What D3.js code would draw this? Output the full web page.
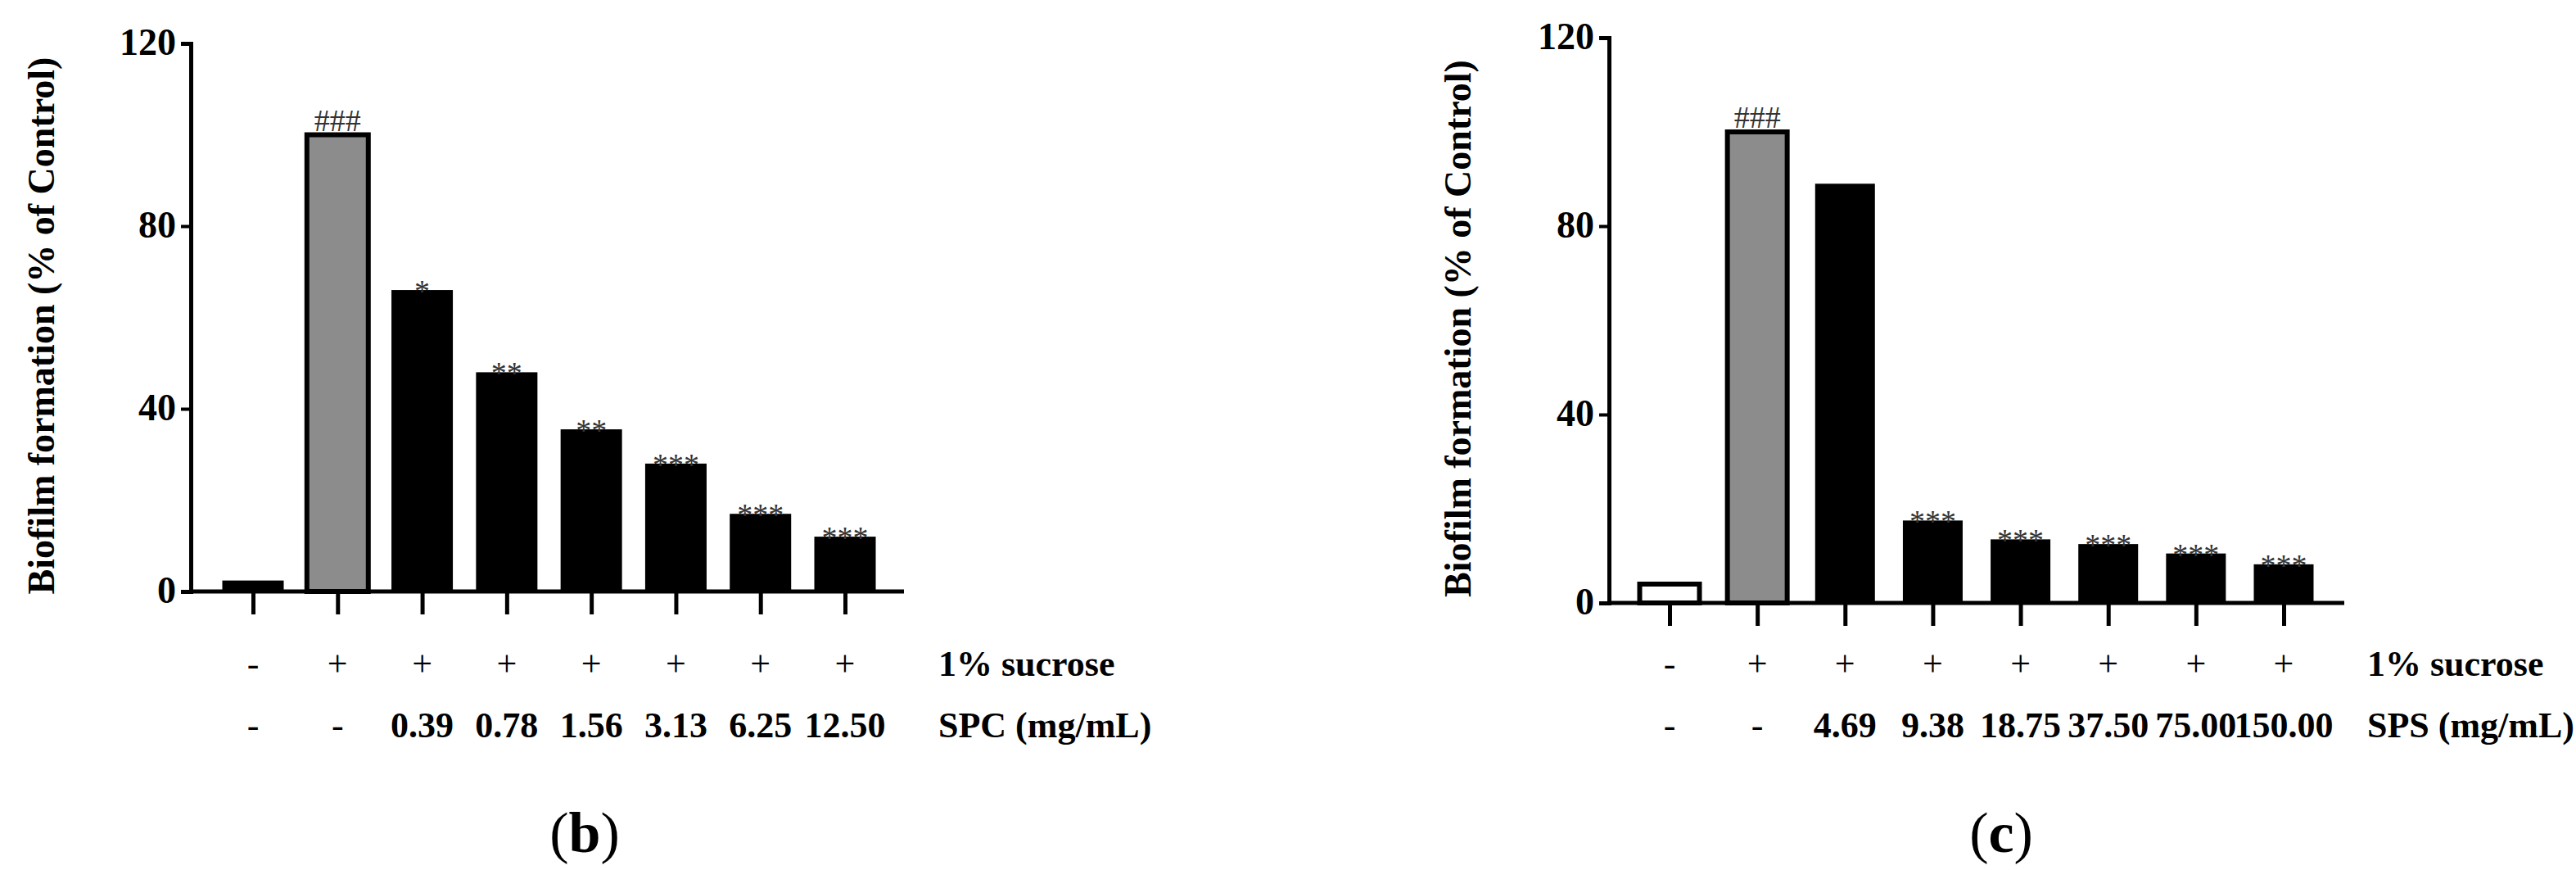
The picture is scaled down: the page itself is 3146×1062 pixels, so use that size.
<!DOCTYPE html>
<html><head><meta charset="utf-8">
<script src="https://cdn.jsdelivr.net/npm/d3@7"></script>
<style>body{margin:0;background:#fff}text{font-family:"Liberation Serif","Times New Roman",serif}</style>
</head><body>
<svg id="chart" width="3146" height="1062"></svg>
<script>
// --- data ---
const sucroseRow = ["-", "+", "+", "+", "+", "+", "+", "+"];
const spcDoses = ["-", "-", "0.39", "0.78", "1.56", "3.13", "6.25", "12.50"];
const spcValues = [2.4, 100, 66, 48, 35.5, 28, 17, 12];
const spcMarks = ["", "###", "*", "**", "**", "***", "***", "***"];
const spsDoses = ["-", "-", "4.69", "9.38", "18.75", "37.50", "75.00", "150.00"];
const spsValues = [4, 100, 89, 17.5, 13.5, 12.5, 10.5, 8.2];
const spsMarks = ["", "###", "", "***", "***", "***", "***", "***"];
const yTicks = [0, 40, 80, 120];

const svg = d3.select("#chart");

function drawPanel(o) {
    const g = svg.append("g");
    const x = d3.scalePoint().domain(d3.range(o.values.length)).range([o.c0, o.c1]);
    const y = d3.scaleLinear().domain([0, 120]).range([o.y0, o.yTop]);
    const bw = o.barW;

    // bars
    g.selectAll("rect").data(o.values).join("rect")
        .attr("x", (d, i) => x(i) - bw / 2)
        .attr("y", d => y(d))
        .attr("width", bw)
        .attr("height", d => o.y0 - y(d))
        .attr("fill", (d, i) => o.fills[i])
        .attr("stroke", "#000")
        .attr("stroke-width", (d, i) => o.fills[i] === "#000" ? 0 : 6);

    // significance marks
    g.selectAll(".sig").data(o.marks).join("text")
        .attr("x", (d, i) => x(i))
        .attr("y", (d, i) => y(o.values[i]) + (d.startsWith("#") ? -5 : 14))
        .attr("text-anchor", "middle")
        .attr("font-size", 38)
        .attr("fill", "#333")
        .text(d => d);

    // y axis
    const ya = g.append("g").attr("transform", `translate(${o.x0},0)`)
        .call(d3.axisLeft(y).tickValues(yTicks).tickSize(12).tickPadding(6));
    ya.select(".domain").attr("stroke-width", 5);
    ya.selectAll(".tick line").attr("stroke-width", 4);
    ya.selectAll("text").attr("font-size", 46).attr("font-weight", "bold")
        .attr("font-family", "Liberation Serif").attr("fill", "#000").attr("dy", "0.3em");

    // x axis
    const xa = g.append("g").attr("transform", `translate(0,${o.y0})`)
        .call(d3.axisBottom(x).tickSize(28).tickFormat(""));
    xa.select(".domain").attr("d", `M${o.x0},0H${o.x1}`).attr("stroke-width", 5);
    xa.selectAll(".tick line").attr("stroke-width", 5);

    // condition rows
    const rows = [[sucroseRow, 825, "1% sucrose"], [o.doses, 900, o.doseLabel]];
    rows.forEach(([vals, yy, label]) => {
        g.selectAll(null).data(vals).join("text")
            .attr("x", (d, i) => x(i))
            .attr("y", yy)
            .attr("text-anchor", "middle")
            .attr("font-size", 44)
            .attr("font-weight", d => /\d/.test(d) ? "bold" : "normal")
            .text(d => d);
        g.append("text").attr("x", o.labelX).attr("y", yy)
            .attr("font-size", 44).attr("font-weight", "bold").text(label);
    });

    // y title
    g.append("text")
        .attr("transform", `translate(${o.titleX},${(o.y0 + o.yTop) / 2 + 10}) rotate(-90)`)
        .attr("text-anchor", "middle").attr("font-size", 46).attr("font-weight", "bold")
        .text("Biofilm formation (% of Control)");

    // panel letter
    const pl = g.append("text").attr("x", o.letterX).attr("y", 1040)
        .attr("text-anchor", "middle").attr("font-size", 70);
    pl.append("tspan").text("(");
    pl.append("tspan").attr("font-weight", "bold").text(o.letter);
    pl.append("tspan").text(")");
}

drawPanel({ x0: 233, x1: 1104, y0: 722, yTop: 53, c0: 309, c1: 1032, barW: 75,
    fills: ["#000", "#8c8c8c", "#000", "#000", "#000", "#000", "#000", "#000"],
    values: spcValues, marks: spcMarks, doses: spcDoses, doseLabel: "SPC (mg/mL)",
    labelX: 1146, titleX: 66, letterX: 714, letter: "b" });
drawPanel({ x0: 1965, x1: 2863, y0: 736, yTop: 46, c0: 2039, c1: 2789, barW: 73,
    fills: ["#fff", "#8c8c8c", "#000", "#000", "#000", "#000", "#000", "#000"],
    values: spsValues, marks: spsMarks, doses: spsDoses, doseLabel: "SPS (mg/mL)",
    labelX: 2891, titleX: 1796, letterX: 2444, letter: "c" });
</script>
</body></html>
